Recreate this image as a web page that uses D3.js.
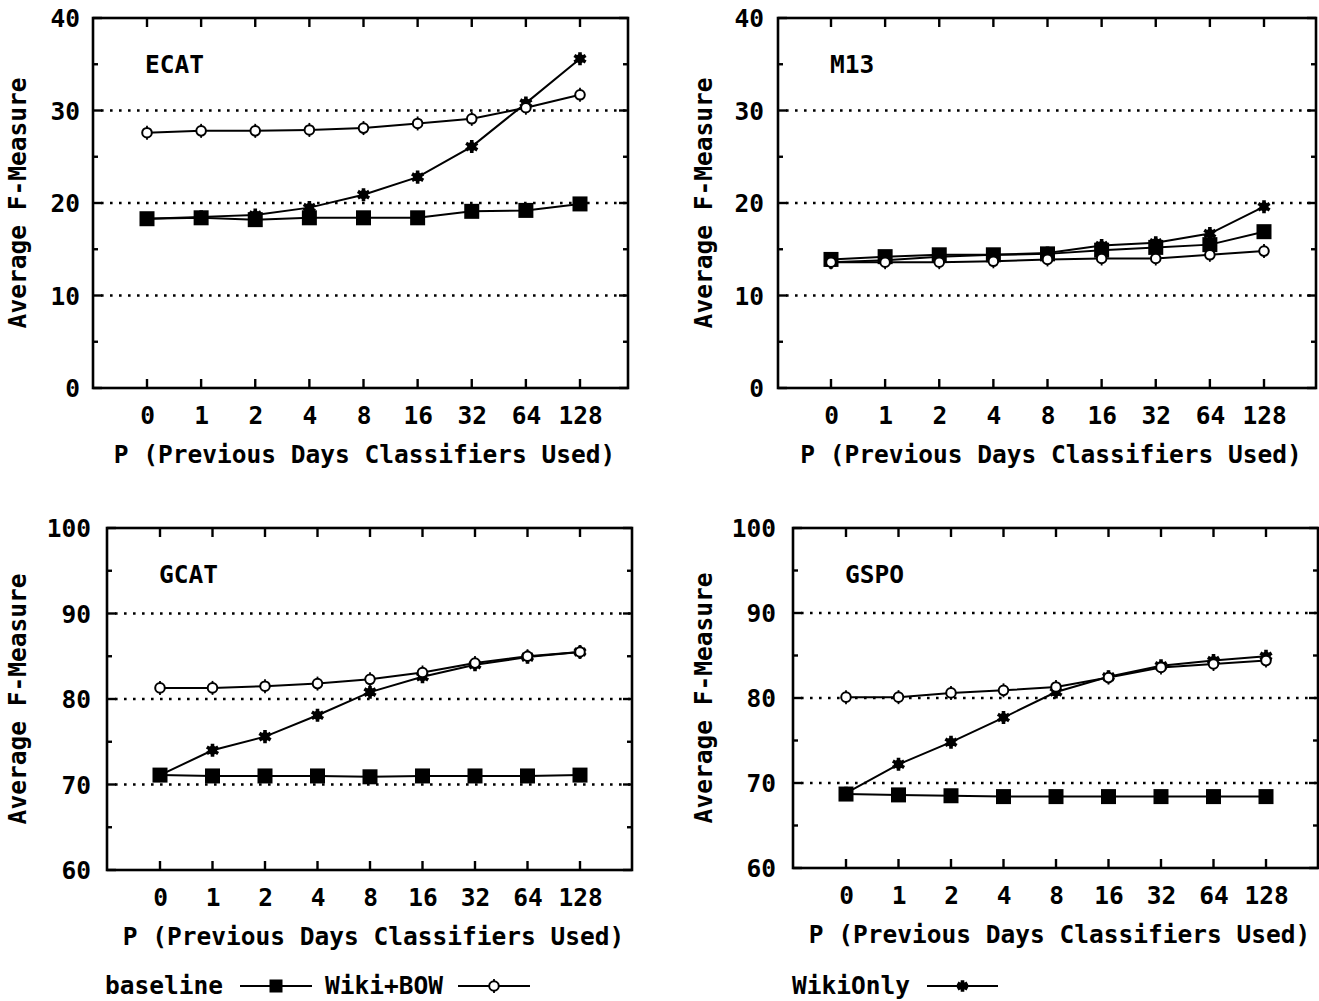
<!DOCTYPE html>
<html>
<head>
<meta charset="utf-8">
<script src="https://cdn.jsdelivr.net/npm/d3@7"></script>
<style>
  body { margin: 0; background: #fff; }
  svg { display: block; }
  text { font-family: "DejaVu Sans Mono", "Liberation Mono", monospace; font-weight: bold; fill: #000; }
</style>
</head>
<body>
<svg id="chart" width="1319" height="1001"></svg>
<script>
// ---- data ----
const categories = ["0", "1", "2", "4", "8", "16", "32", "64", "128"];
const seriesNames = ["baseline", "Wiki+BOW", "WikiOnly"];
const panelNames = ["ECAT", "M13", "GCAT", "GSPO"];

const ecatBaseline = [18.3, 18.4, 18.2, 18.4, 18.4, 18.4, 19.1, 19.2, 19.9];
const ecatWikiBow  = [27.6, 27.8, 27.8, 27.9, 28.1, 28.6, 29.1, 30.3, 31.7];
const ecatWikiOnly = [18.3, 18.5, 18.7, 19.5, 20.9, 22.8, 26.1, 30.8, 35.6];

const m13Baseline = [13.9, 14.2, 14.4, 14.4, 14.5, 14.9, 15.2, 15.5, 16.9];
const m13WikiBow  = [13.6, 13.6, 13.6, 13.7, 13.9, 14.0, 14.0, 14.4, 14.8];
const m13WikiOnly = [13.6, 13.8, 14.2, 14.4, 14.6, 15.4, 15.7, 16.7, 19.6];

const gcatBaseline = [71.1, 71.0, 71.0, 71.0, 70.9, 71.0, 71.0, 71.0, 71.1];
const gcatWikiBow  = [81.3, 81.3, 81.5, 81.8, 82.3, 83.1, 84.2, 85.0, 85.5];
const gcatWikiOnly = [71.1, 74.0, 75.6, 78.1, 80.8, 82.6, 84.0, 84.9, 85.5];

const gspoBaseline = [68.7, 68.6, 68.5, 68.4, 68.4, 68.4, 68.4, 68.4, 68.4];
const gspoWikiBow  = [80.1, 80.1, 80.6, 80.9, 81.3, 82.4, 83.6, 84.0, 84.4];
const gspoWikiOnly = [68.8, 72.2, 74.8, 77.7, 80.7, 82.5, 83.8, 84.4, 84.9];

const ecatTicks = [0, 10, 20, 30, 40];
const gcatTicks = [60, 70, 80, 90, 100];

const xLabel = "P (Previous Days Classifiers Used)";
const yLabel = "Average F-Measure";

// ---- layout ----
const panels = [
  { name: panelNames[0], series: [ecatBaseline, ecatWikiBow, ecatWikiOnly], ticks: ecatTicks,
    x0: 147, x8: 580, left: 93, right: 628, top: 18, bottom: 388, ylabX: 18, tickLabX: 80 },
  { name: panelNames[1], series: [m13Baseline, m13WikiBow, m13WikiOnly], ticks: ecatTicks,
    x0: 831, x8: 1264, left: 778, right: 1316, top: 18, bottom: 388, ylabX: 704, tickLabX: 764 },
  { name: panelNames[2], series: [gcatBaseline, gcatWikiBow, gcatWikiOnly], ticks: gcatTicks,
    x0: 160, x8: 580, left: 107, right: 632, top: 528, bottom: 870, ylabX: 18, tickLabX: 91 },
  { name: panelNames[3], series: [gspoBaseline, gspoWikiBow, gspoWikiOnly], ticks: gcatTicks,
    x0: 846, x8: 1266, left: 793, right: 1318, top: 528, bottom: 868, ylabX: 704, tickLabX: 776 }
];

const svg = d3.select("#chart");
const FS = 24.5;

function drawMarker(g, type, x, y, size) {
  if (type === 0) {
    const s = size || 15;
    g.append("rect").attr("x", x - s / 2).attr("y", y - s / 2).attr("width", s).attr("height", s).attr("fill", "#000");
  } else if (type === 1) {
    g.append("line").attr("x1", x).attr("x2", x).attr("y1", y - 7).attr("y2", y + 7).attr("stroke", "#000").attr("stroke-width", 1.8);
    g.append("circle").attr("cx", x).attr("cy", y).attr("r", 4.8).attr("fill", "#fff").attr("stroke", "#000").attr("stroke-width", 2);
  } else {
    const s = size ? 90 : 120;
    g.append("path").attr("transform", `translate(${x},${y})`)
      .attr("d", d3.symbol().type(d3.symbolAsterisk).size(s)())
      .attr("fill", "none").attr("stroke", "#000").attr("stroke-width", 3.6);
    g.append("circle").attr("cx", x).attr("cy", y).attr("r", size ? 3.8 : 4.6).attr("fill", "#000");
  }
}

panels.forEach(p => {
  const x = d3.scaleLinear().domain([0, 8]).range([p.x0, p.x8]);
  const y = d3.scaleLinear().domain([p.ticks[0], p.ticks[p.ticks.length - 1]]).range([p.bottom, p.top]);
  const g = svg.append("g");

  // gridlines (dotted) at inner major ticks
  p.ticks.slice(1, -1).forEach(t => {
    g.append("line").attr("x1", p.left + 8).attr("x2", p.right - 2)
      .attr("y1", y(t)).attr("y2", y(t))
      .attr("stroke", "#000").attr("stroke-width", 2.6).attr("stroke-dasharray", "2.6,6.4");
  });

  // frame
  g.append("rect").attr("x", p.left).attr("y", p.top)
    .attr("width", p.right - p.left).attr("height", p.bottom - p.top)
    .attr("fill", "none").attr("stroke", "#000").attr("stroke-width", 2.6);

  // y ticks (major + minor), both sides, inward
  const minorStep = (p.ticks[1] - p.ticks[0]) / 2;
  const allY = d3.range(p.ticks[0], p.ticks[p.ticks.length - 1] + 0.001, minorStep);
  allY.forEach((t, i) => {
    const len = (i % 2 === 0) ? 9 : 5;
    g.append("line").attr("x1", p.left).attr("x2", p.left + len).attr("y1", y(t)).attr("y2", y(t))
      .attr("stroke", "#000").attr("stroke-width", 2.4);
    g.append("line").attr("x1", p.right).attr("x2", p.right - len).attr("y1", y(t)).attr("y2", y(t))
      .attr("stroke", "#000").attr("stroke-width", 2.4);
  });

  // y tick labels via axis
  const yAxis = d3.axisLeft(y).tickValues(p.ticks).tickSize(0).tickPadding(0).tickFormat(d3.format("d"));
  const ya = g.append("g").attr("transform", `translate(${p.tickLabX},0)`).call(yAxis);
  ya.select(".domain").remove();
  ya.selectAll("text").attr("font-size", FS).attr("font-family", null).attr("dy", "0.35em");

  // x ticks top and bottom
  categories.forEach((c, i) => {
    g.append("line").attr("x1", x(i)).attr("x2", x(i)).attr("y1", p.bottom).attr("y2", p.bottom - 9)
      .attr("stroke", "#000").attr("stroke-width", 2.4);
    g.append("line").attr("x1", x(i)).attr("x2", x(i)).attr("y1", p.top).attr("y2", p.top + 9)
      .attr("stroke", "#000").attr("stroke-width", 2.4);
  });

  // x tick labels via axis
  const xb = d3.scalePoint().domain(categories).range([p.x0, p.x8]);
  const xAxis = d3.axisBottom(xb).tickSize(0).tickPadding(0);
  const xa = g.append("g").attr("transform", `translate(0,${p.bottom + 36})`).call(xAxis);
  xa.select(".domain").remove();
  xa.selectAll("text").attr("font-size", FS).attr("font-family", null).attr("dy", "0");

  // axis titles
  g.append("text").attr("x", (p.left + p.right) / 2 + 4).attr("y", p.bottom + 75)
    .attr("text-anchor", "middle").attr("font-size", FS).text(xLabel);
  g.append("text").attr("transform", `translate(${p.ylabX + 8},${(p.top + p.bottom) / 2}) rotate(-90)`)
    .attr("text-anchor", "middle").attr("font-size", FS).text(yLabel);

  // panel title
  g.append("text").attr("x", p.left + 52).attr("y", p.top + 55).attr("font-size", FS).text(p.name);

  // series lines
  const line = d3.line().x((d, i) => x(i)).y(d => y(d));
  [0, 2, 1].forEach(si => {
    g.append("path").datum(p.series[si]).attr("d", line)
      .attr("fill", "none").attr("stroke", "#000").attr("stroke-width", 2);
  });
  [0, 2, 1].forEach(si => {
    p.series[si].forEach((v, i) => drawMarker(g, si, x(i), y(v)));
  });
});

// legend
const legendItems = [
  { name: seriesNames[0], tx: 105, lx: 240, lw: 72, y: 986 },
  { name: seriesNames[1], tx: 325, lx: 458, lw: 72, y: 986 },
  { name: seriesNames[2], tx: 792, lx: 927, lw: 71, y: 986 }
];
legendItems.forEach((it, si) => {
  const g = svg.append("g");
  g.append("text").attr("x", it.tx).attr("y", it.y + 8).attr("font-size", FS).text(it.name);
  g.append("line").attr("x1", it.lx).attr("x2", it.lx + it.lw).attr("y1", it.y).attr("y2", it.y)
    .attr("stroke", "#000").attr("stroke-width", 2);
  drawMarker(g, si, it.lx + it.lw / 2, it.y, 13);
});
</script>
</body>
</html>
